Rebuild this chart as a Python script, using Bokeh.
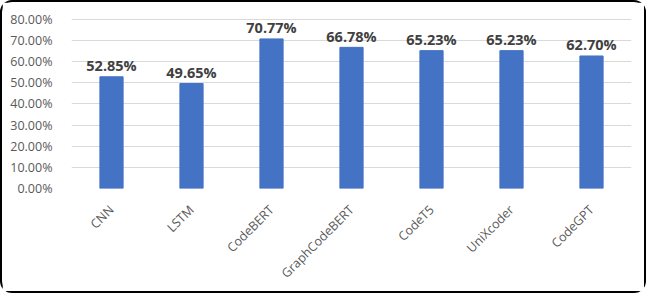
import math
from bokeh.plotting import figure
from bokeh.models import ColumnDataSource, NumeralTickFormatter, FixedTicker, Range1d
from bokeh.core.properties import value
from bokeh.embed import file_html
from bokeh.resources import INLINE

models = ["CNN", "LSTM", "CodeBERT", "GraphCodeBERT", "CodeT5", "UniXcoder", "CodeGPT"]
scores = [0.5285, 0.4965, 0.7077, 0.6678, 0.6523, 0.6523, 0.6270]
labels = ["52.85%", "49.65%", "70.77%", "66.78%", "65.23%", "65.23%", "62.70%"]
y_ticks = [0.0, 0.1, 0.2, 0.3, 0.4, 0.5, 0.6, 0.7, 0.8]

src = ColumnDataSource(dict(x=models, top=scores, lab=labels))

p = figure(x_range=models, width=646, height=293, output_backend="svg",
           toolbar_location=None, min_border_left=69, min_border_right=17,
           min_border_top=0, min_border_bottom=107)
p.y_range = Range1d(0, 0.88)
p.vbar(x="x", top="top", width=0.29, source=src, color="#4472C4")
p.text(x="x", y="top", text="lab", source=src, text_align="center",
       text_baseline="alphabetic", y_offset=-11, text_font=value("Open Sans"),
       text_font_size="14.5px", text_font_style="bold", text_color="#404040")

p.yaxis.ticker = FixedTicker(ticks=y_ticks)
p.yaxis.formatter = NumeralTickFormatter(format="0.00%")
for ax in (p.xaxis, p.yaxis):
    ax.axis_line_color = None
    ax.major_tick_line_color = None
    ax.minor_tick_line_color = None
    ax.major_label_text_font = "Open Sans"
    ax.major_label_text_font_size = "12.5px"
    ax.major_label_text_color = "#595959"
p.yaxis.major_label_standoff = 13
p.xaxis.major_label_orientation = math.pi / 4
p.xaxis.major_label_standoff = 13
p.xgrid.grid_line_color = None
p.ygrid.grid_line_color = "#D9D9D9"
p.ygrid.grid_line_width = 1
p.outline_line_color = None
p.x_range.range_padding = 0
p.styles = {"border": "2px solid #000", "border-radius": "12px"}

open("out.html", "w").write(file_html(p, INLINE))
